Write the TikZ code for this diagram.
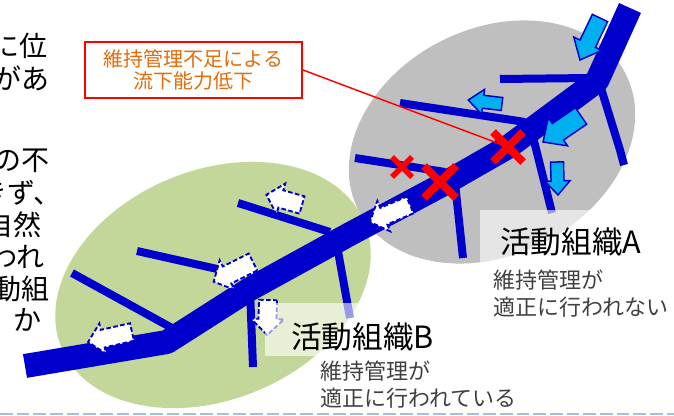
\documentclass[tikz,border=0pt]{standalone}
\usepackage{fontspec}
\setmainfont{Noto Sans CJK JP}
\usetikzlibrary{calc}
\definecolor{rivblue}{HTML}{0000CC}
\definecolor{cyanc}{HTML}{00B0F0}
\definecolor{grayell}{HTML}{BFBFBF}
\definecolor{greenell}{HTML}{C4D79B}
\definecolor{calloutorange}{HTML}{E46C0A}
\definecolor{subgray}{HTML}{404040}
\definecolor{dashblue}{HTML}{A9BEDC}
\tikzset{
  pics/blk/.style args={#1/#2/#3/#4}{code={%
    \path[pic actions] (0,-#2) -- ({#1-#4},-#2) -- ({#1-#4},-#3) -- (#1,0) -- ({#1-#4},#3) -- ({#1-#4},#2) -- (0,#2) -- cycle;}},
  cyanarrow/.style={draw=rivblue, fill=cyanc, line width=1.1pt, line join=miter},
  whitearrow/.style={draw=rivblue, fill=white, line width=1.4pt, dash pattern=on 3.5pt off 1.8pt},
  trib/.style={draw=rivblue, line width=6pt},
  mainriv/.style={draw=rivblue, line width=18pt, line join=bevel},
  xmk/.style={draw=red, line width=#1},
  lefttxt/.style={inner sep=0pt, anchor=east, font=\fontsize{21}{25}\selectfont, text=black},
  titletxt/.style={inner sep=0pt, anchor=west, font=\fontsize{23}{27}\selectfont, text=black},
  subtxt/.style={inner sep=0pt, anchor=west, font=\fontsize{16.5}{20}\selectfont, text=subgray},
  labelbox/.style={fill=white, fill opacity=0.6},
}
\begin{document}
\begin{tikzpicture}[x=0.75pt,y=-0.75pt]
\useasboundingbox (0,0) rectangle (674,416);
\clip (0,0) rectangle (674,416);
% areas
\fill[greenell, rotate around={22.5:(213,285)}] (213,285) ellipse [x radius=123pt, y radius=86pt];
\fill[grayell, rotate around={27:(492,142)}] (492,142) ellipse [x radius=112.5pt, y radius=84.75pt];
% tributaries
\draw[trib] (72,273) -- (172,328);
\draw[trib] (137,251) -- (235,273);
\draw[trib] (238,203) -- (330,232);
\draw[trib] (250,290) -- (253,367);
\draw[trib] (336,240) -- (350,318);
\draw[trib] (355,158) -- (445,172);
\draw[trib] (400,103) -- (525,122);
\draw[trib] (500,79) -- (592,78);
\draw[trib] (600,85) -- (620,150) -- (624,165);
\draw[trib] (532,133) -- (552,213);
\draw[trib] (455,183) -- (463,258);
% main river
\draw[mainriv] (25,366) -- (167,342) -- (250,289) -- (350,234) -- (440,186) -- (508,147) -- (597,81) -- (630,8);
% inflow arrows (activity A)
\pic[cyanarrow, rotate=-115.5] at (600,18) {blk=46.5/8.5/15.5/18};
\pic[cyanarrow, rotate=173.3] at (502,104) {blk=34/6.5/12.5/15};
\pic[cyanarrow, rotate=-145.6] at (581,116) {blk=46/10/17/18};
\pic[cyanarrow, rotate=-88.3] at (557,162) {blk=33/6.5/12.5/14};
% dashed arrows (activity B)
\pic[whitearrow, rotate=164] at (302,205) {blk=37/9/16/15};
\pic[whitearrow, rotate=-153.4] at (253,262) {blk=44/9.5/16.5/15};
\pic[whitearrow, rotate=-167.2] at (132,332) {blk=45/9/15.5/15};
\pic[whitearrow, rotate=-91.6] at (268,300) {blk=35/9/16.5/16};
\pic[whitearrow, rotate=-157] at (410,205) {blk=43.5/9/16.5/15};
% X marks
\coordinate (bigx) at (508,147);
\draw[xmk=6pt] (493,132) -- (523,162);
\draw[xmk=6pt] (493,162) -- (523,132);
\draw[xmk=6pt] (424,166) -- (456,198);
\draw[xmk=6pt] (424,198) -- (456,166);
\draw[xmk=4pt] (392,157) -- (412,177);
\draw[xmk=4pt] (392,177) -- (412,157);
% callout
\node[draw=red, line width=1.5pt, fill=white, minimum width=162.75pt, minimum height=42pt,
      align=center, text=calloutorange, font=\fontsize{15}{16.5}\selectfont] (callout) at (193.5,70)
      {維持管理不足による\\流下能力低下};
\draw[red, line width=1.1pt] (callout.east) -- (bigx);
% label boxes
\fill[labelbox] (480,210) rectangle (662,262);
\fill[labelbox] (265,303) rectangle (445,356);
\node[titletxt] (tA) at (500,242) {活動組織A};
\node[subtxt] (sA1) at (493,280) {維持管理が};
\node[subtxt] (sA2) at (493,307) {適正に行われない};
\node[titletxt] (tB) at (291,337) {活動組織B};
\node[subtxt] (sB1) at (320,371) {維持管理が};
\node[subtxt] (sB2) at (320,398) {適正に行われている};
% left text (cut at the picture edge, as in the reference)
\node[lefttxt] (l1) at (47.5,46) {に位};
\node[lefttxt] (l2) at (50,78) {があ};
\node[lefttxt] (l3) at (49.5,161) {の不};
\node[lefttxt] (l4) at (62,193) {きず、};
\node[lefttxt] (l5) at (41.5,225) {自然};
\node[lefttxt] (l6) at (44.5,257) {われ};
\node[lefttxt] (l7) at (49.5,289) {動組};
\node[lefttxt] (l8) at (41.5,320) {か};
% bottom dashed rule
\draw[dashblue, line width=1.5pt, dash pattern=on 9.5pt off 3pt] (0,414) -- (674,414);
\end{tikzpicture}
\end{document}
